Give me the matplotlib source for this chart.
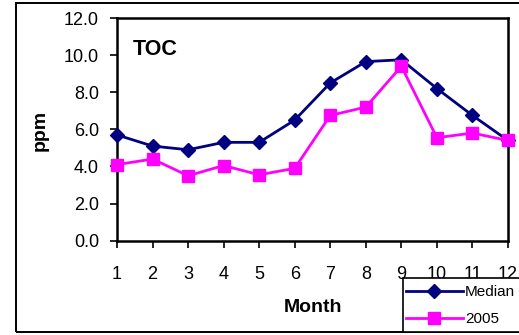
import matplotlib
matplotlib.use("Agg")
import matplotlib.pyplot as plt
from matplotlib.patches import Rectangle

plt.rcParams['font.family'] = ['Liberation Sans', 'DejaVu Sans']

# Monthly total organic carbon
months = [1, 2, 3, 4, 5, 6, 7, 8, 9, 10, 11, 12]
month_labels = [str(m) for m in months]
median = [5.7, 5.1, 4.9, 5.3, 5.3, 6.5, 8.5, 9.65, 9.75, 8.2, 6.75, 5.4]
y2005 = [4.1, 4.4, 3.5, 4.05, 3.55, 3.9, 6.75, 7.2, 9.4, 5.55, 5.8, 5.4]
yticks = [0, 2, 4, 6, 8, 10, 12]

W, H = 519, 335
fig = plt.figure(figsize=(W / 100, H / 100), dpi=100)

# outer chart border
fig.patches.append(Rectangle((16 / W, 3 / H), 1.2, 1 - 5.5 / H, transform=fig.transFigure,
                             fill=False, edgecolor='black', linewidth=1.4, zorder=0))

ax = fig.add_axes([117 / W, 1 - 240.7 / H, (508 - 117) / W, (240.7 - 18) / H])

l1, = ax.plot(months, median, color='#000080', linewidth=2.0, marker='D',
              markersize=7.5, markerfacecolor='#000080', markeredgecolor='#000080',
              label='Median', zorder=3, clip_on=False)
l2, = ax.plot(months, y2005, color='#FF00FF', linewidth=2.0, marker='s',
              markersize=9, markerfacecolor='#FF00FF', markeredgecolor='#FF00FF',
              label='2005', zorder=4, clip_on=False)

ax.set_xlim(1, 12)
ax.set_ylim(0, 12)
ax.set_xticks(months)
ax.set_xticklabels(month_labels)
ax.set_yticks(yticks)
ax.set_yticklabels([f"{v:.1f}" for v in yticks])

for s in ax.spines.values():
    s.set_visible(True)
    s.set_linewidth(1.8)
    s.set_color('black')
    s.set_zorder(2.5)

ax.tick_params(axis='both', direction='out', length=5, width=1.2, labelsize=13, colors='black')
ax.tick_params(axis='y', pad=8)
ax.tick_params(axis='x', pad=13)

ax.text(0.04, 0.86, 'TOC', transform=ax.transAxes, fontsize=15.5, fontweight='bold',
        ha='left', va='center')

fig.text(40 / W, 1 - 130 / H, 'ppm', rotation=90, fontsize=14, fontweight='bold',
         ha='center', va='center')
fig.text(313 / W, 1 - 307 / H, 'Month', fontsize=14, fontweight='bold',
         ha='center', va='center')

# legend box
fig.patches.append(Rectangle((403 / W, 3 / H), 1.0, (H - 278 - 3) / H, transform=fig.transFigure,
                             fill=True, facecolor='white', edgecolor='black', linewidth=1.2,
                             zorder=5))
leg = fig.legend(handles=[l1, l2], loc='upper left', bbox_to_anchor=(403 / W, 1 - 282 / H),
                 frameon=False, fontsize=11, handlelength=3.7, handletextpad=0.15,
                 labelspacing=0.85, borderpad=0.2, borderaxespad=0, markerscale=0.9)
leg.set_zorder(6)

fig.savefig('out.png', dpi=100)
